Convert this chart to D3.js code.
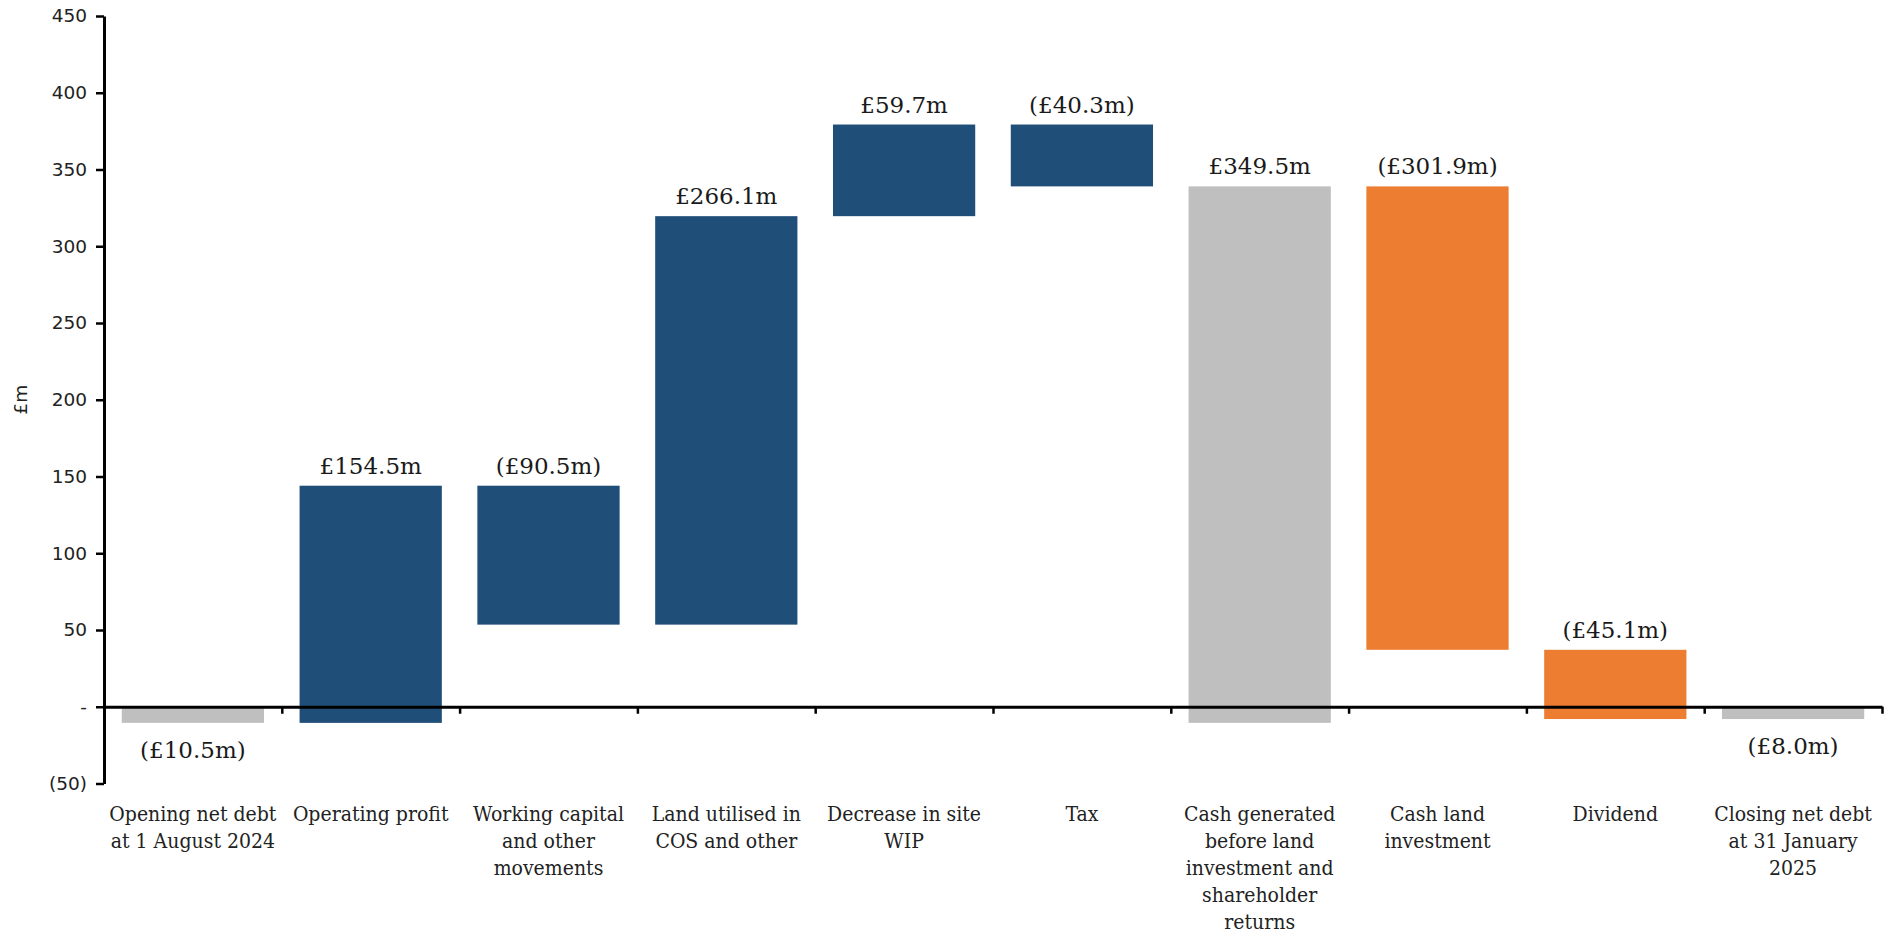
<!DOCTYPE html>
<html>
<head>
<meta charset="utf-8">
<script src="https://cdn.jsdelivr.net/npm/d3@7"></script>
<style>
  html, body { margin: 0; padding: 0; background: #ffffff; }
  svg { display: block; }
</style>
</head>
<body>
<svg id="chart" width="1896" height="935"></svg>
<script>
// Net debt bridge, £m
const categories = [
  "Opening net debt\nat 1 August 2024",
  "Operating profit",
  "Working capital\nand other\nmovements",
  "Land utilised in\nCOS and other",
  "Decrease in site\nWIP",
  "Tax",
  "Cash generated\nbefore land\ninvestment and\nshareholder\nreturns",
  "Cash land\ninvestment",
  "Dividend",
  "Closing net debt\nat 31 January\n2025"
];
// start / delta / subtotal / end
const stepTypes = ["start", "delta", "delta", "delta", "delta", "delta", "subtotal", "delta", "delta", "end"];
const values = [-10.5, 154.5, -90.5, 266.1, 59.7, -40.3, 349.5, -301.9, -45.1, -8.0];
const groups = ["balance", "operating", "operating", "operating", "operating", "operating", "balance", "investment", "investment", "balance"];
const yTicks = [-50, 0, 50, 100, 150, 200, 250, 300, 350, 400, 450];

const groupColour = { balance: "#BFBFBF", operating: "#1F4E79", investment: "#ED7D31" };

const svg = d3.select("#chart");
const plotLeft = 104, plotRight = 1882, plotTop = 16, plotBottom = 783.5;

const x = d3.scaleBand().domain(categories).range([plotLeft, plotRight]).paddingInner(0.2).paddingOuter(0.1);
const y = d3.scaleLinear().domain([-50, 450]).range([plotBottom, plotTop]);

// Running totals for the bridge
let running = 0, opening = 0;
const steps = categories.map((c, i) => {
  const v = values[i];
  let y0, y1;
  if (stepTypes[i] === "start") { y0 = 0; y1 = v; opening = v; running = v; }
  else if (stepTypes[i] === "delta") { y0 = running; y1 = running + v; running = y1; }
  else if (stepTypes[i] === "subtotal") { y0 = opening; y1 = opening + v; }
  else { y0 = 0; y1 = v; }
  return { cat: c, type: stepTypes[i], value: v, group: groups[i], lo: Math.min(y0, y1), hi: Math.max(y0, y1) };
});

// Bars
svg.append("g").selectAll("rect").data(steps).join("rect")
  .attr("x", d => x(d.cat))
  .attr("width", x.bandwidth())
  .attr("y", d => y(d.hi))
  .attr("height", d => y(d.lo) - y(d.hi))
  .attr("fill", d => groupColour[d.group]);

// Y axis
const fmtTick = v => v === 0 ? "-" : v < 0 ? "(" + Math.abs(v) + ")" : String(v);
const yAxis = svg.append("g").attr("transform", `translate(${plotLeft},0)`)
  .call(d3.axisLeft(y).tickValues(yTicks).tickFormat(fmtTick).tickSize(8).tickSizeOuter(0).tickPadding(9));
yAxis.select(".domain").attr("stroke", "#000").attr("stroke-width", 3);
yAxis.selectAll(".tick line").attr("stroke", "#000").attr("stroke-width", 2.5);
yAxis.selectAll(".tick text").attr("font-family", "'DejaVu Sans', sans-serif").attr("font-size", 18.5).attr("fill", "#222");

// Category axis at zero, with ticks between categories
const xEdges = d3.scaleLinear().domain([0, categories.length]).range([plotLeft, plotRight]);
const xAxis = svg.append("g").attr("transform", `translate(0,${y(0)})`)
  .call(d3.axisBottom(xEdges).tickValues(d3.range(1, categories.length + 1)).tickFormat("").tickSize(7).tickSizeOuter(0));
xAxis.select(".domain").attr("stroke", "#000").attr("stroke-width", 3);
xAxis.selectAll(".tick line").attr("stroke", "#000").attr("stroke-width", 2.5);

// Category labels
const catLabels = svg.append("g")
  .attr("font-family", "'DejaVu Serif Condensed', 'DejaVu Serif', serif")
  .attr("font-stretch", "condensed")
  .attr("font-size", 21)
  .attr("fill", "#222")
  .attr("text-anchor", "middle");
steps.forEach(d => {
  const cx = x(d.cat) + x.bandwidth() / 2;
  const t = catLabels.append("text").attr("x", cx).attr("y", 821);
  d.cat.split("\n").forEach((line, i) => {
    t.append("tspan").attr("x", cx).attr("dy", i === 0 ? 0 : 27).text(line);
  });
});

// Value labels
const fmtVal = v => v < 0 ? "(£" + Math.abs(v).toFixed(1) + "m)" : "£" + v.toFixed(1) + "m";
svg.append("g")
  .attr("font-family", "'DejaVu Serif', serif")
  .attr("font-size", 23)
  .attr("fill", "#1a1a1a")
  .attr("text-anchor", "middle")
  .selectAll("text").data(steps).join("text")
  .attr("x", d => x(d.cat) + x.bandwidth() / 2)
  .attr("y", d => (d.type === "start" || d.type === "end") ? y(d.lo) + 35 : y(d.hi) - 12)
  .text(d => fmtVal(d.value));

// Axis title
svg.append("text")
  .attr("transform", `translate(27,${(plotTop + plotBottom) / 2}) rotate(-90)`)
  .attr("text-anchor", "middle")
  .attr("font-family", "'DejaVu Sans', sans-serif")
  .attr("font-size", 18.5)
  .attr("fill", "#222")
  .text("£m");
</script>
</body>
</html>
